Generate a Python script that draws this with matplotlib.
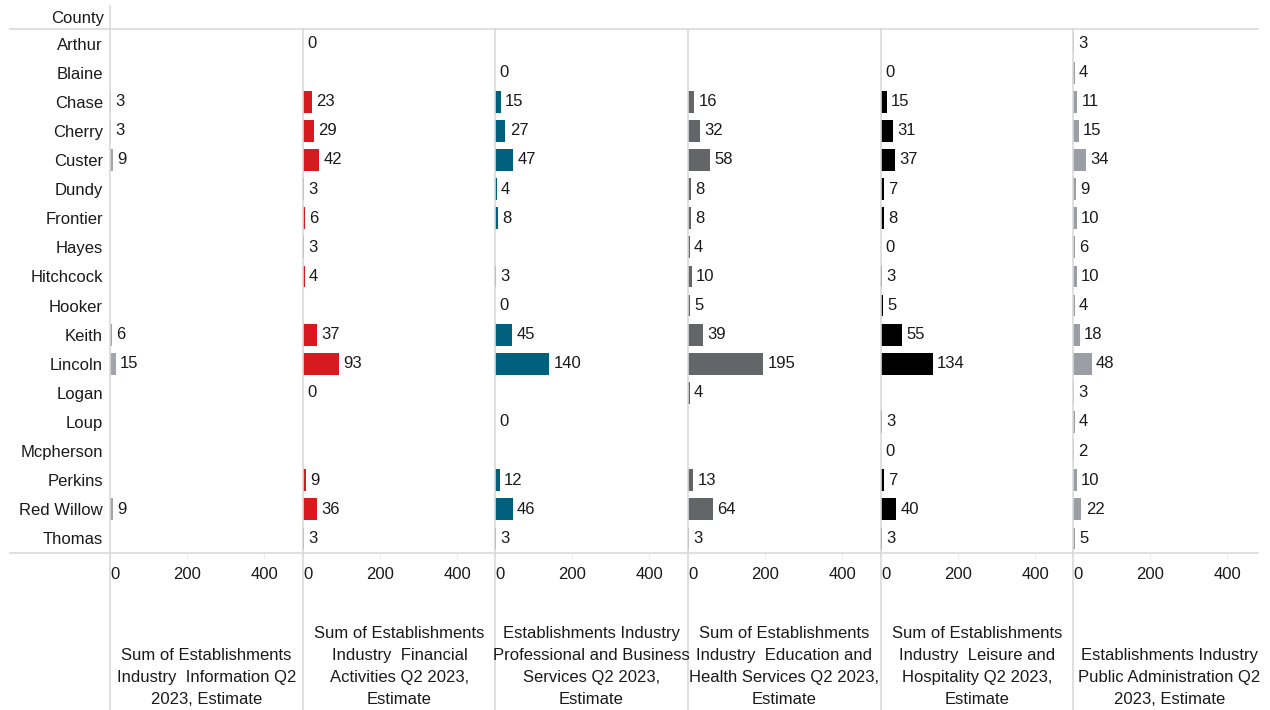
import numpy as np
import matplotlib
matplotlib.use("Agg")
import matplotlib.pyplot as plt
from matplotlib.lines import Line2D

plt.rcParams["font.family"] = ["Liberation Sans Narrow", "Liberation Sans", "DejaVu Sans"]

counties = ["Arthur", "Blaine", "Chase", "Cherry", "Custer", "Dundy", "Frontier",
            "Hayes", "Hitchcock", "Hooker", "Keith", "Lincoln", "Logan", "Loup",
            "Mcpherson", "Perkins", "Red Willow", "Thomas"]

# None = no estimate published for that county
information = [None, None, 3, 3, 9, None, None, None, None, None, 6, 15,
               None, None, None, None, 9, None]
financial = [0, None, 23, 29, 42, 3, 6, 3, 4, None, 37, 93,
             0, None, None, 9, 36, 3]
professional = [None, 0, 15, 27, 47, 4, 8, None, 3, 0, 45, 140,
                None, 0, None, 12, 46, 3]
education = [None, None, 16, 32, 58, 8, 8, 4, 10, 5, 39, 195,
             4, None, None, 13, 64, 3]
leisure = [None, 0, 15, 31, 37, 7, 8, 0, 3, 5, 55, 134,
           None, 3, 0, 7, 40, 3]
public_admin = [3, 4, 11, 15, 34, 9, 10, 6, 10, 4, 18, 48,
                3, 4, 2, 10, 22, 5]

series = [information, financial, professional, education, leisure, public_admin]
colors = ["#a2a5aa", "#d71920", "#00617f", "#646569", "#000000", "#9b9fa5"]
headers = [
    "Sum of Establishments\nIndustry  Information Q2\n2023, Estimate",
    "Sum of Establishments\nIndustry  Financial\nActivities Q2 2023,\nEstimate",
    "Establishments Industry\nProfessional and Business\nServices Q2 2023,\nEstimate",
    "Sum of Establishments\nIndustry  Education and\nHealth Services Q2 2023,\nEstimate",
    "Sum of Establishments\nIndustry  Leisure and\nHospitality Q2 2023,\nEstimate",
    "Establishments Industry\nPublic Administration Q2\n2023, Estimate",
]
xticks = [0, 200, 400]

W, H = 1270, 710
fig = plt.figure(figsize=(W / 100, H / 100), dpi=100)

text_color = "#1a1a1a"
line_color = "#d9d9d9"
fs = 12

panel_x = [110, 303, 495, 688, 881, 1073]
panel_w = 193
top, bottom = 29, 553
n = len(counties)


def fx(px):
    return px / W


def fy(py):
    return 1 - py / H


for i, (vals, col) in enumerate(zip(series, colors)):
    ax = fig.add_axes([fx(panel_x[i]), fy(bottom), fx(panel_w), (bottom - top) / H])
    ax.set_xlim(0, 500)
    ax.set_ylim(n - 0.5, -0.5)
    for j, v in enumerate(vals):
        if v is None:
            continue
        ax.barh(j, v, height=0.75, color=col, edgecolor="none")
        ax.text(v + 11, j, str(v), va="center", ha="left", fontsize=fs, color=text_color)
    for s in ax.spines.values():
        s.set_visible(False)
    ax.set_xticks(xticks)
    ax.set_xticklabels([str(t) for t in xticks], fontsize=fs, color=text_color)
    ax.get_xticklabels()[0].set_ha("left")
    ax.tick_params(axis="x", length=4, color="#ececec", pad=6)
    if i == 0:
        ax.set_yticks(range(n))
        ax.set_yticklabels(counties, fontsize=fs, color=text_color)
        ax.tick_params(axis="y", length=0, pad=5)
    else:
        ax.set_yticks([])
    ax.patch.set_alpha(0)

    # column header under the axis
    fig.text(fx(panel_x[i] + panel_w / 2), fy(707), headers[i], ha="center", va="bottom",
             fontsize=fs, color=text_color, linespacing=1.58)

# grid lines of the table
fig.add_artist(Line2D([fx(10), fx(1258)], [fy(top), fy(top)], color=line_color, lw=1.2))
fig.add_artist(Line2D([fx(10), fx(1258)], [fy(bottom), fy(bottom)], color=line_color, lw=1.2))
fig.add_artist(Line2D([fx(110), fx(110)], [fy(6), fy(710)], color=line_color, lw=1.2))
for x in panel_x[1:]:
    fig.add_artist(Line2D([fx(x), fx(x)], [fy(top), fy(710)], color=line_color, lw=1.2))

fig.text(fx(104), fy(18), "County", ha="right", va="center", fontsize=fs, color=text_color)

fig.savefig("out.png", dpi=100)
